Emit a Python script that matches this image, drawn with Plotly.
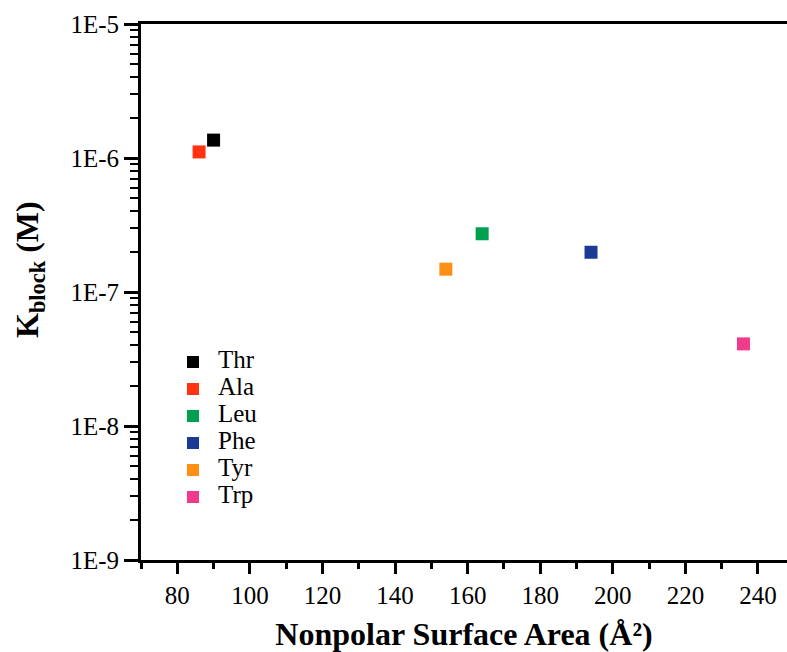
import plotly.graph_objects as go

names = ["Thr", "Ala", "Leu", "Phe", "Tyr", "Trp"]
area = [90, 86, 164, 194, 154, 236]
kblock = [1.36e-6, 1.11e-6, 2.72e-7, 1.98e-7, 1.48e-7, 4.1e-8]
colors = ["#000000", "#ff3311", "#00a050", "#1a3a96", "#ff9015", "#f03a8c"]
ytickvals = [1e-9, 1e-8, 1e-7, 1e-6, 1e-5]
yticktext = ["1E-9", "1E-8", "1E-7", "1E-6", "1E-5"]

font = "Liberation Serif, Times New Roman, serif"

W, H = 787, 652
ML, MR, MT, MB = 141, 0, 24, 92
PW, PH = W - ML - MR, H - MT - MB

fig = go.Figure()
for n, x, y, c in zip(names, area, kblock, colors):
    fig.add_trace(go.Scatter(x=[x], y=[y], name=n, mode="markers", showlegend=False,
                             marker=dict(symbol="square", size=13, color=c)))

# custom legend on a hidden pixel-scaled overlay axis
leg_x, leg_y0, leg_step = 52, 198, 27
leg_ys = [leg_y0 - i * leg_step for i in range(len(names))]
fig.add_trace(go.Scatter(x=[leg_x] * len(names), y=leg_ys, mode="markers",
                         marker=dict(symbol="square", size=12, color=colors),
                         xaxis="x2", yaxis="y2", showlegend=False, hoverinfo="skip"))
fig.add_trace(go.Scatter(x=[leg_x + 25] * len(names), y=leg_ys, mode="text",
                         text=names, textposition="middle right",
                         textfont=dict(family=font, size=25, color="black"),
                         xaxis="x2", yaxis="y2", showlegend=False, hoverinfo="skip"))

fig.add_annotation(text="<b>K<sub>block</sub> (M)</b>", textangle=-90,
                   xref="paper", yref="paper", x=(29 - ML) / PW, y=(H - MB - 270) / PH,
                   xanchor="center", yanchor="middle", showarrow=False,
                   font=dict(family=font, size=32, color="black"))

fig.update_layout(
    width=W, height=H,
    margin=dict(l=ML, r=MR, t=MT, b=MB),
    plot_bgcolor="white", paper_bgcolor="white",
    font=dict(family=font, size=25, color="black"),
    showlegend=False,
    xaxis=dict(range=[70, 248], tickvals=list(range(80, 250, 20)),
               showline=True, linewidth=3, linecolor="black", mirror=True,
               ticks="outside", ticklen=11, tickwidth=2.5, tickcolor="black",
               minor=dict(ticks="outside", ticklen=6, tickwidth=2.5, tickcolor="black",
                          tickvals=list(range(70, 250, 20))),
               showgrid=False, zeroline=False,
               tickfont=dict(family=font, size=25),
               title=dict(text="<b>Nonpolar Surface Area (Å²)</b>",
                          font=dict(family=font, size=32), standoff=15)),
    yaxis=dict(type="log", range=[-9, -5], tickvals=ytickvals, ticktext=yticktext,
               showline=True, linewidth=3, linecolor="black",
               ticks="outside", ticklen=14, tickwidth=2.5, tickcolor="black",
               minor=dict(ticks="outside", ticklen=8, tickwidth=2, tickcolor="black",
                          dtick="D1"),
               showgrid=False, zeroline=False,
               tickfont=dict(family=font, size=25)),
    xaxis2=dict(overlaying="x", range=[0, PW], visible=False, fixedrange=True),
    yaxis2=dict(overlaying="y", range=[0, PH], visible=False, fixedrange=True),
)

fig.write_html("out.html")
